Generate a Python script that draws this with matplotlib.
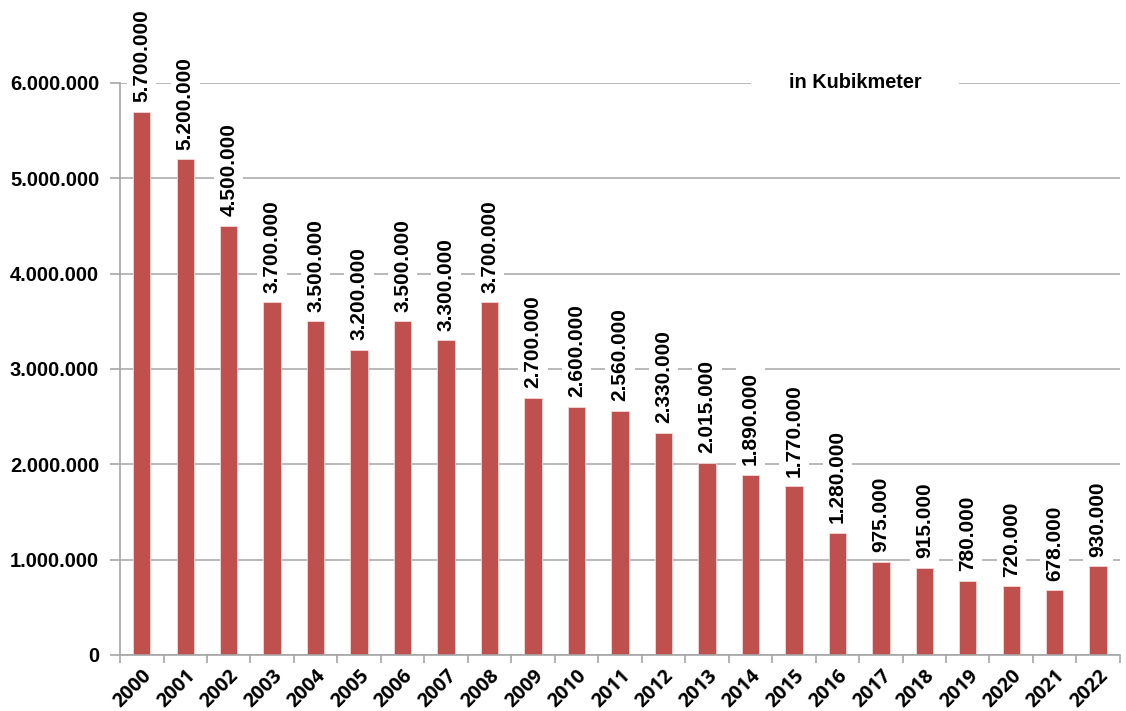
import matplotlib.pyplot as plt
from matplotlib.ticker import FuncFormatter
from matplotlib.transforms import blended_transform_factory
import numpy as np

plt.rcParams['font.family'] = ['Liberation Sans', 'DejaVu Sans']

years = [str(y) for y in range(2000, 2023)]
values = [5700000, 5200000, 4500000, 3700000, 3500000, 3200000, 3500000,
          3300000, 3700000, 2700000, 2600000, 2560000, 2330000, 2015000,
          1890000, 1770000, 1280000, 975000, 915000, 780000, 720000,
          678000, 930000]
y_ticks = [0, 1000000, 2000000, 3000000, 4000000, 5000000, 6000000]
unit_label = "in Kubikmeter"


def de_fmt(v, pos=None):
    return f"{int(v):,}".replace(",", ".")


fig = plt.figure(figsize=(11.26, 7.11), dpi=100)
ax = fig.add_axes([0.1066, 0.0788, 0.888, 0.8045])

x = np.arange(len(years))
ax.bar(x, values, width=0.4, color='#c0504d', edgecolor='#f4d8d7', linewidth=0.6, zorder=2)

for xi, v in zip(x, values):
    ax.annotate(de_fmt(v), (xi, v), xytext=(0, 7), textcoords='offset points',
                rotation=90, ha='center', va='bottom', fontsize=15,
                fontweight='bold', zorder=4, annotation_clip=False,
                bbox=dict(boxstyle='square,pad=0.25', fc='white', ec='none'))

ax.set_xlim(-0.5, len(years) - 0.5)
ax.set_ylim(0, 6000000)
ax.set_yticks(y_ticks)
ax.yaxis.set_major_formatter(FuncFormatter(de_fmt))
ax.yaxis.grid(True, color='#b3b3b3', linewidth=1.3, zorder=0)
ax.set_axisbelow(True)

ax.set_xticks(x)
ax.set_xticklabels(years, rotation=45, ha='right', rotation_mode='anchor',
                   fontsize=14, fontweight='bold', family=['Open Sans', 'DejaVu Sans'])
ax.set_xticks(np.arange(len(years) + 1) - 0.5, minor=True)
ax.tick_params(axis='x', which='major', length=0, pad=8)
ax.tick_params(axis='x', which='minor', length=6, color='#a6a6a6', width=1.2)
ax.tick_params(axis='y', length=7, color='#a6a6a6', width=1.2, labelsize=14.5, pad=8)
for lab in ax.get_yticklabels():
    lab.set_fontweight('bold')

for side in ['top', 'right']:
    ax.spines[side].set_visible(False)
for side in ['left', 'bottom']:
    ax.spines[side].set_color('#a6a6a6')
    ax.spines[side].set_linewidth(1.2)

trans = blended_transform_factory(ax.transAxes, ax.transData)
ax.text(0.735, 6000000, unit_label, transform=trans,
        ha='center', va='center', fontsize=14.3, fontweight='bold', zorder=4,
        bbox=dict(boxstyle='square,pad=1.9', fc='white', ec='none'))

fig.savefig('out.png', dpi=100)
